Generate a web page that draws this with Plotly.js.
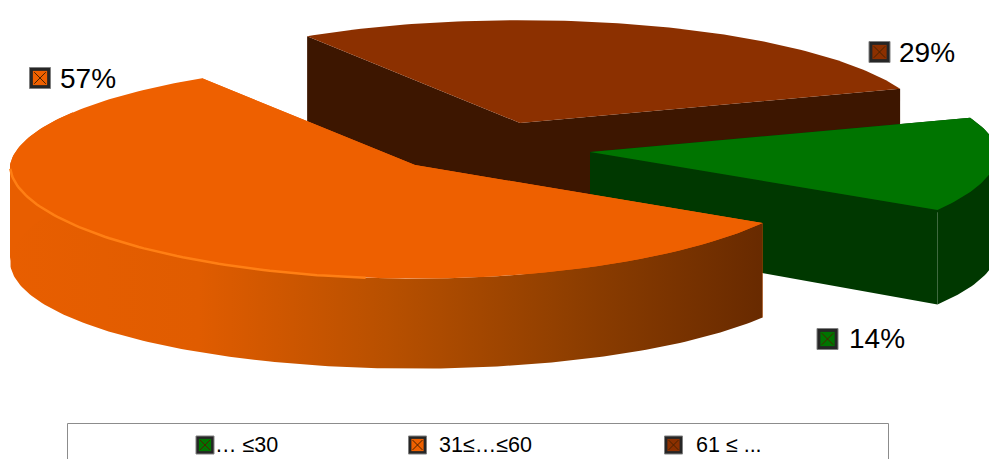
<!DOCTYPE html>
<html><head><meta charset="utf-8">
<script src="https://cdn.plot.ly/plotly-3.0.1.min.js"></script>
<style>html,body{margin:0;padding:0;background:#fff}#c{width:989px;height:459px}</style>
</head><body><div id="c"></div>
<script>
const categories = ['… ≤30', '31≤…≤60', '61 ≤ ...'];
const values = [14, 57, 29];
const topColors = ['#007400', '#ee6000', '#8c3000'];
const wallColors = ['#003800', '#ee6000', '#3d1600'];
const centers = [[590,152],[415,165],[520,123]];
const labelPos = [[849,340],[60,80],[899,54]];
const markerPos = [[827.5,339],[40,78],[879.5,52]];
const legendTextX = [215,439,696];
const legendMarkX = [205,417.5,673.5];
const startDeg = -18.8, RXR = 408, RXL = 405, RY = 108, KX = 0.05, KY = 0.05;

function depthAt(v){ return v<0 ? 96+13*v : 96-6*v*v; }
function pt(c, deg, wall){
  const t = deg*Math.PI/180, u = Math.cos(t), v = Math.sin(t);
  const rx = u>0 ? RXR : RXL;
  return [c[0]+rx*u/(1-KX*Math.min(v,0)), c[1]+RY*v/(1-KY*v)+(wall?depthAt(v):0)];
}
function arc(c,a,b,wall){
  const xs=[],ys=[],n=Math.max(8,Math.ceil(Math.abs(b-a)));
  for(let i=0;i<=n;i++){const p=pt(c,a+(b-a)*i/n,wall);xs.push(p[0]);ys.push(p[1]);}
  return [xs,ys];
}
function poly(xs,ys,color,extra){
  return Object.assign({type:'scatter',mode:'lines',x:xs,y:ys,fill:'toself',fillcolor:color,
    line:{width:0,color:color},hoverinfo:'skip',showlegend:false},extra||{});
}
const total = values.reduce((a,b)=>a+b,0);
const ang=[]; let acc=startDeg;
values.forEach(v=>{ang.push([acc,acc+v/total*360]);acc+=v/total*360;});

function strip(c,lo,hi,color,grad){
  const t=arc(c,lo,hi,false),d=arc(c,lo,hi,true);
  return poly(t[0].concat(d[0].slice().reverse()),t[1].concat(d[1].slice().reverse()),color,grad?{fillgradient:grad}:{});
}
function slice(i,grad,edgeColor){
  const c=centers[i],[a,b]=ang[i],out=[];
  const pa=pt(c,a),pb=pt(c,b),qa=pt(c,a,true),qb=pt(c,b,true);
  const ap=c[1]+90;
  out.push(poly([c[0],pa[0],qa[0],c[0]],[c[1],pa[1],qa[1],ap],wallColors[i]));
  out.push(poly([c[0],pb[0],qb[0],c[0]],[c[1],pb[1],qb[1],ap],wallColors[i]));
  // rim wall, split at the left and right extremes so each strip stays simple
  if(a<0) out.push(strip(c,a,0,wallColors[i]));
  const lo=Math.max(a,0), hi=Math.min(b,180);
  if(hi>lo) out.push(strip(c,lo,hi,wallColors[i],grad));
  if(b>180 && a<180) out.push(strip(c,180,Math.min(b,210),edgeColor||wallColors[i]));
  const t=arc(c,a,b,false);
  out.push(poly([c[0]].concat(t[0]),[c[1]].concat(t[1]),topColors[i]));
  return out;
}
const orangeGrad={type:'horizontal',start:10,stop:763,colorscale:[[0,'#e85e00'],[0.25,'#e05c00'],[0.5,'#b85000'],[0.75,'#8e3e00'],[1,'#682a00']]};
const traces=[].concat(slice(2),slice(0),slice(1,orangeGrad,'#e85e00'));
const rim=arc(centers[1],97,178,false);
traces.push({type:'scatter',mode:'lines',x:rim[0],y:rim[1],line:{color:'#ff7f14',width:2.5},hoverinfo:'skip',showlegend:false});

function glyphs(xs,ys,cols,size){
  traces.push({type:'scatter',mode:'markers',x:xs,y:ys,marker:{symbol:'square',size:size,color:'#262626',line:{width:1,color:'#808080'}},hoverinfo:'skip',showlegend:false});
  traces.push({type:'scatter',mode:'markers',x:xs,y:ys,marker:{symbol:'square',size:size*0.68,color:cols,line:{width:0}},hoverinfo:'skip',showlegend:false});
  traces.push({type:'scatter',mode:'markers',x:xs,y:ys,marker:{symbol:'x-thin',size:size*0.55,line:{width:1,color:'#4a2200'}},hoverinfo:'skip',showlegend:false});
}
glyphs(markerPos.map(p=>p[0]),markerPos.map(p=>p[1]),topColors,21);
glyphs(legendMarkX,[445,445,445],topColors,18);

traces.push({type:'scatter',mode:'text',x:labelPos.map(p=>p[0]),y:labelPos.map(p=>p[1]+1),
  text:values.map(v=>v+'%'),textposition:'middle right',
  textfont:{family:'Liberation Sans, Arial, sans-serif',size:28,color:'#000'},hoverinfo:'skip',showlegend:false});
traces.push({type:'scatter',mode:'text',x:legendTextX,y:[447,447,447],text:categories,textposition:'middle right',
  textfont:{family:'Liberation Sans, Arial, sans-serif',size:21.5,color:'#000'},hoverinfo:'skip',showlegend:false});

const layout={width:989,height:459,margin:{l:0,r:0,t:0,b:0},paper_bgcolor:'#fff',plot_bgcolor:'#fff',showlegend:false,
  xaxis:{range:[0,989],visible:false,fixedrange:true},
  yaxis:{range:[459,0],visible:false,fixedrange:true},
  shapes:[{type:'rect',xref:'x',yref:'y',x0:67.5,x1:888.5,y0:423.5,y1:470,line:{color:'#8c8c8c',width:1},layer:'below'}]};
Plotly.newPlot('c',traces,layout,{displayModeBar:false,staticPlot:true});
</script></body></html>
